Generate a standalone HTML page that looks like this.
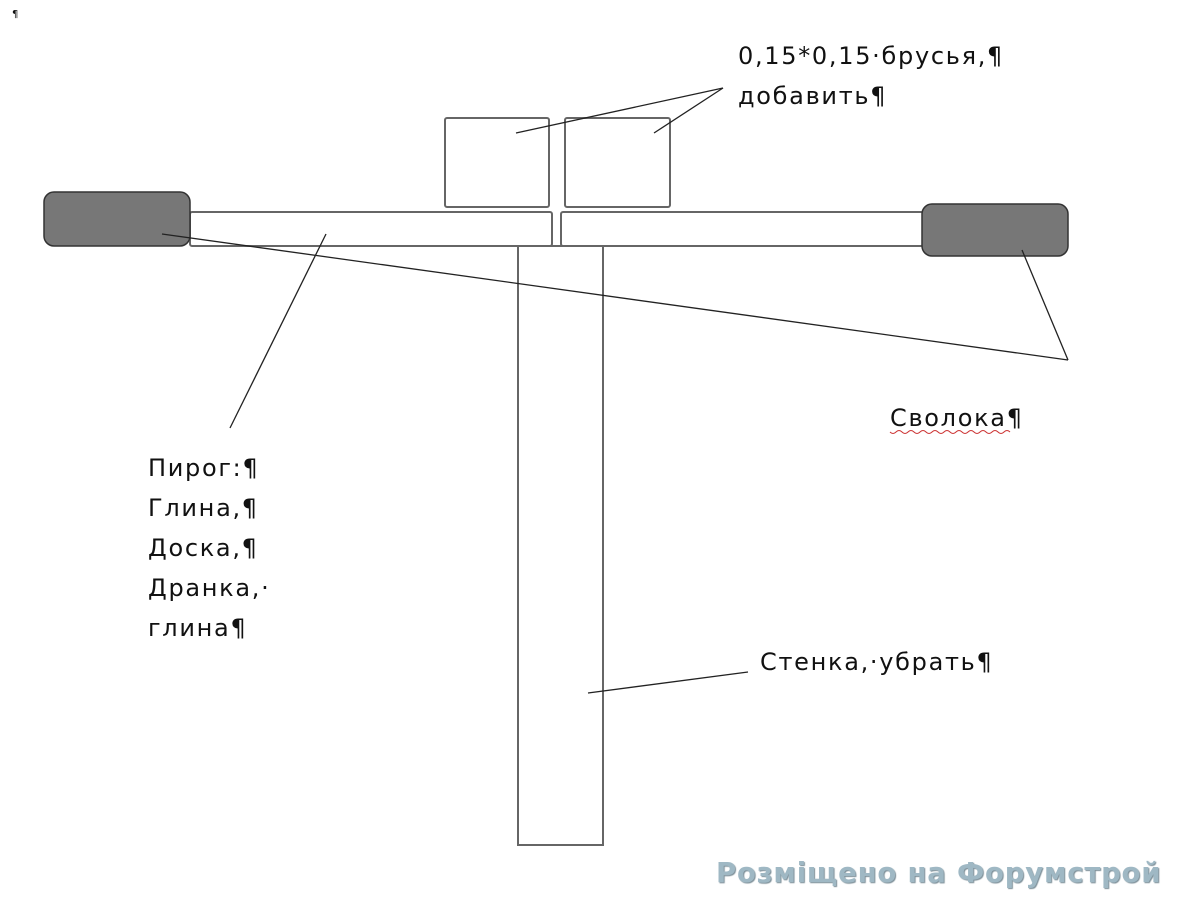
<!DOCTYPE html>
<html><head><meta charset="utf-8"><style>
body{margin:0;width:1200px;height:900px;background:#fff;overflow:hidden;position:relative;font-family:"DejaVu Sans","Liberation Sans",sans-serif;}
.t{position:absolute;font-size:24px;color:#111;line-height:40px;letter-spacing:1.7px;}
</style></head><body>
<svg width="1200" height="900" style="position:absolute;left:0;top:0">
<g fill="none" stroke="#666" stroke-width="2">
<rect x="445" y="118" width="104" height="89" rx="2"/>
<rect x="565" y="118" width="105" height="89" rx="2"/>
<rect x="190" y="212" width="362" height="34" rx="2"/>
<rect x="561" y="212" width="362" height="34" rx="2"/>
<rect x="518" y="246" width="85" height="599"/>
</g>
<rect x="44" y="192" width="146" height="54" rx="10" fill="#777" stroke="#333" stroke-width="1.5"/>
<rect x="922" y="204" width="146" height="52" rx="10" fill="#777" stroke="#333" stroke-width="1.5"/>
<g stroke="#222" stroke-width="1.3">
<line x1="162" y1="234" x2="1068" y2="360"/>
<line x1="1068" y1="360" x2="1022" y2="250"/>
<line x1="230" y1="428" x2="326" y2="234"/>
<line x1="588" y1="693" x2="748" y2="672"/>
<line x1="516" y1="133" x2="723" y2="88"/>
<line x1="654" y1="133" x2="723" y2="88"/>
</g>
<path d="M890 432 q3 3 6 0 t6 0 t6 0 t6 0 t6 0 t6 0 t6 0 t6 0 t6 0 t6 0 t6 0 t6 0 t6 0 t6 0 t6 0 t6 0 t6 0 t6 0 t6 0 t6 0" fill="none" stroke="#c33" stroke-width="1"/>
</svg>
<div class="t" style="left:12px;top:0;font-size:10px;line-height:30px;letter-spacing:0">¶</div>
<div class="t" style="left:738px;top:36px">0,15*0,15·брусья,¶<br>добавить¶</div>
<div class="t" style="left:890px;top:398px">Сволока¶</div>
<div class="t" style="left:148px;top:448px">Пирог:¶<br>Глина,¶<br>Доска,¶<br>Дранка,·<br>глина¶</div>
<div class="t" style="left:760px;top:642px">Стенка,·убрать¶</div>
<div style="position:absolute;left:716px;top:857px;font-size:27.5px;font-weight:bold;color:#9fb8c4;letter-spacing:0.8px;font-family:'DejaVu Sans',sans-serif;text-shadow:1px 1px 1px #7d8f98">Розміщено на Форумстрой</div>
</body></html>
